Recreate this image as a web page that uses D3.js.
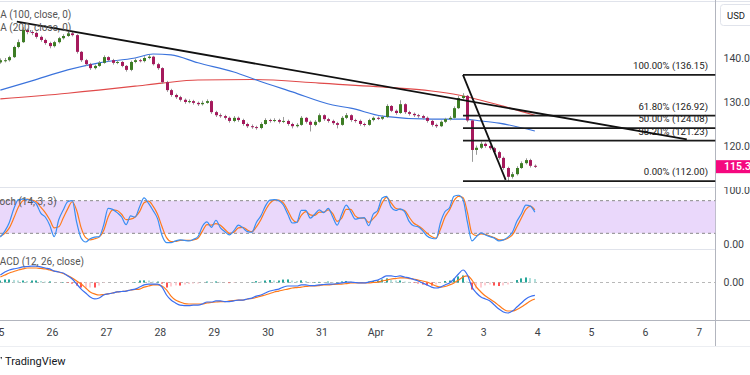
<!DOCTYPE html>
<html>
<head>
<meta charset="utf-8">
<script src="https://cdn.jsdelivr.net/npm/d3@7"></script>
<style>
  body { margin: 0; background: #fff; }
  svg { display: block; font-family: Roboto, "Open Sans", sans-serif; }
</style>
</head>
<body>
<svg id="chart" width="750" height="375"></svg>
<script>
// 2h candles starting Mar 25 00:00 (open of first bar, then open = previous close)
const firstOpen = 139.0;
const closes = [
  139.5,139.5,140.2,142.5,143.6,146.4,145.9,145.7,144.8,144.1,
  143.4,142.7,143.6,144.5,145.0,145.6,145.2,141.4,139.5,138.6,
  137.7,138.2,138.9,140.2,139.5,138.9,139.1,138.2,137.3,139.1,
  139.5,139.3,140.0,140.3,138.6,137.7,134.5,132.7,131.6,131.1,
  130.5,130.0,130.2,129.8,129.5,129.8,130.2,127.7,127.0,126.8,
  126.4,125.7,126.4,125.9,125.0,124.5,124.3,124.1,125.0,125.9,
  125.7,125.9,125.5,125.7,125.0,124.5,124.8,126.4,125.5,124.8,
  125.5,127.0,126.1,125.7,125.2,124.8,126.4,127.0,125.9,125.7,
  125.0,124.8,125.9,126.4,126.2,126.6,129.1,128.0,127.5,129.5,
  127.7,127.3,127.0,126.8,126.4,125.7,124.8,124.5,125.5,126.1,
  126.4,128.6,130.9,131.4,125.8,119.1,119.6,120.5,120.0,119.5,
  118.6,117.3,115.0,113.0,113.6,115.0,116.1,116.8,115.5,115.3];
const highs = [
  139.9,140.0,140.5,142.8,144.2,147.0,146.7,146.3,146.0,145.1,
  144.4,143.7,143.9,144.8,145.4,146.0,145.9,145.4,141.6,139.8,
  138.9,138.5,139.3,140.6,140.4,139.8,139.5,139.3,138.4,139.4,
  139.9,139.8,140.4,140.7,140.5,138.9,137.9,134.8,133.0,131.9,
  131.4,130.8,130.6,130.5,130.1,130.3,130.6,130.4,128.0,127.4,
  127.1,126.7,126.8,126.7,126.2,125.3,124.9,124.6,125.4,126.3,
  126.2,126.3,126.2,126.6,126.0,125.3,125.2,126.8,126.6,125.8,
  125.9,127.4,127.2,126.4,126.0,125.5,126.8,127.5,127.2,126.2,
  126.0,125.3,126.2,126.7,126.7,127.0,129.5,129.3,128.3,130.4,
  129.7,128.0,127.6,127.3,127.1,126.7,126.0,125.1,125.8,126.4,
  126.8,129.0,131.4,132.0,131.6,126.0,120.1,121.0,120.8,120.3,
  119.8,118.9,117.6,115.3,114.1,115.4,116.5,117.2,117.1,115.8];
const lows = [
  138.7,139.0,139.2,140.0,142.2,143.4,145.4,145.2,144.4,143.7,
  143.0,142.2,142.4,143.3,144.2,144.8,144.9,141.0,139.1,138.2,
  137.3,137.4,138.0,138.7,139.2,138.5,138.6,137.9,136.9,137.0,
  138.8,139.0,139.0,139.7,138.3,137.3,134.1,132.3,131.2,130.7,
  130.1,129.6,129.7,129.4,129.1,129.2,129.6,127.3,126.6,126.4,
  126.0,125.3,125.4,125.5,124.6,124.1,123.9,123.7,123.8,124.8,
  125.3,125.4,125.1,125.2,124.6,124.0,124.2,124.6,125.1,123.3,
  124.5,125.3,125.7,125.3,124.8,124.0,124.6,126.1,125.5,125.3,
  124.6,124.4,124.6,125.6,125.9,125.9,126.4,127.7,127.1,127.3,
  127.3,126.9,126.6,126.4,126.0,125.3,124.4,124.1,124.3,125.2,
  125.8,126.2,128.4,130.6,125.4,116.4,118.0,119.3,119.6,119.1,
  118.2,116.9,114.6,112.0,112.6,113.3,114.8,115.8,115.1,115.0];

// moving averages, sampled at some bar indices
const maFastIdx = [0, 7, 15, 22, 30, 34, 38, 44, 52, 57, 65, 74, 78, 85, 96, 103, 107, 111, 119];
const maFast = [132.7,134.8,137.3,138.9,140.0,140.9,140.7,138.9,136.8,135.0,132.3,129.3,128.6,126.8,126.1,126.1,125.7,125.2,123.4];
const maSlowIdx = [0, 15, 30, 36, 44, 56, 71, 85, 96, 102, 111, 119];
const maSlow = [130.7,132.0,133.6,134.3,135.0,135.1,134.3,133.4,132.5,131.6,129.3,127.0];

const stochK = [
  13,24,40,65,82,83,82,80,74,57, 50,35,14,45,63,78,80,40,11,4,
  10,13,14,35,66,64,58,50,36,52, 50,69,85,75,62,47,16,3,3,6,
  8,7,6,9,14,33,41,31,44,30, 23,17,25,35,30,23,22,40,52,70,
  81,82,80,72,55,39,40,62,62,48, 55,63,58,66,50,35,55,72,60,46,
  48,49,34,55,62,85,88,68,62,65, 60,42,34,32,25,15,11,10,40,60,
  67,88,90,82,40,6,14,21,17,14, 11,6,8,13,22,42,56,72,70,59];
const stochD = [
  15,20,30,48,68,80,83,81,78,68, 58,45,30,32,48,65,78,62,30,12,
  8,10,13,25,50,63,62,55,45,46, 50,60,76,79,70,55,32,12,5,5,
  7,7,7,8,11,24,36,35,38,35, 27,20,22,30,31,26,23,32,45,62,
  75,81,81,76,62,46,40,53,60,54, 53,59,59,63,56,42,48,64,64,52,
  48,48,40,47,57,76,86,76,66,64, 62,50,39,34,28,20,14,11,28,50,
  63,80,88,86,58,20,16,19,18,15, 12,8,8,11,17,32,48,64,70,63];

const macdLine = [
  0.49,0.69,0.82,0.89,0.95,1.02,1.05,1.08,1.08,1.02,
  0.95,0.89,0.75,0.69,0.62,0.43,0.23,-0.10,-0.43,-0.69,
  -0.95,-1.08,-1.02,-0.82,-0.75,-0.69,-0.62,-0.59,-0.56,-0.49,
  -0.43,-0.30,-0.16,-0.10,-0.10,-0.10,-0.30,-0.82,-1.15,-1.34,
  -1.48,-1.51,-1.51,-1.48,-1.48,-1.41,-1.28,-1.28,-1.21,-1.21,
  -1.25,-1.25,-1.21,-1.15,-1.15,-1.08,-1.02,-0.89,-0.82,-0.69,
  -0.56,-0.49,-0.43,-0.30,-0.23,-0.23,-0.23,-0.16,-0.16,-0.20,
  -0.20,-0.16,-0.13,-0.10,-0.10,-0.07,-0.03,0.03,0.03,0.00,
  -0.03,-0.03,0.03,0.10,0.16,0.30,0.43,0.43,0.39,0.43,
  0.36,0.30,0.20,0.10,-0.03,-0.16,-0.30,-0.36,-0.30,-0.16,
  -0.03,0.23,0.56,0.82,0.49,-0.30,-0.69,-0.95,-1.08,-1.21,
  -1.48,-1.74,-1.93,-2.00,-1.87,-1.61,-1.34,-1.08,-0.92,-0.85];
const signalLine = [
  0.36,0.49,0.62,0.72,0.82,0.89,0.95,0.95,0.95,0.92,
  0.89,0.82,0.75,0.69,0.59,0.46,0.30,0.10,-0.10,-0.36,
  -0.62,-0.75,-0.82,-0.79,-0.75,-0.69,-0.62,-0.59,-0.56,-0.49,
  -0.46,-0.43,-0.30,-0.23,-0.16,-0.16,-0.23,-0.49,-0.89,-1.15,
  -1.28,-1.38,-1.41,-1.41,-1.41,-1.41,-1.34,-1.31,-1.28,-1.25,
  -1.25,-1.21,-1.18,-1.15,-1.15,-1.08,-1.05,-0.98,-0.89,-0.82,
  -0.72,-0.62,-0.56,-0.49,-0.43,-0.36,-0.33,-0.30,-0.26,-0.23,
  -0.23,-0.20,-0.16,-0.16,-0.13,-0.10,-0.10,-0.07,-0.03,-0.03,
  -0.03,-0.03,-0.03,0.00,0.03,0.10,0.16,0.23,0.26,0.30,
  0.30,0.26,0.23,0.16,0.10,0.03,-0.10,-0.23,-0.30,-0.26,
  -0.16,-0.03,0.16,0.36,0.43,0.16,-0.30,-0.62,-0.89,-1.08,
  -1.28,-1.51,-1.74,-1.87,-1.87,-1.77,-1.61,-1.41,-1.21,-1.08];

const fibLevels = [1, 0.618, 0.5, 0.382, 0];
const fibHigh = 136.15;
const fibLow = 112.00;
const priceTicks = [140, 130, 120];
const stochTicks = [100, 0];
const macdTicks = [0];

const start = new Date(Date.UTC(2025, 2, 25));
const utc = (m, d, h, min) => new Date(Date.UTC(2025, m, d, h, min || 0));
const fibStart = utc(3, 2, 15);
const trendLines = [
  { t0: utc(2, 25, 8, 20), p0: 148.25, t1: utc(3, 6, 18, 40), p1: 121.5 },
  { t0: fibStart, p0: fibHigh, t1: utc(3, 3, 10), p1: 112.3 }
];

//#region layout
const W = 750, H = 375;
const axisX = 715.5;
const pricePane = [0, 187], stochPane = [187, 249], macdPane = [249, 320];
const timeAxisY = 320;
const upColor = '#3d7d24', downColor = '#a5195c', wickColor = '#9a9a9a';
const gridColor = '#e0e3eb', axisColor = '#b2b5be', textColor = '#3c3f47';

let svg = d3.select('#chart');

let x = d3.scaleUtc()
  .domain([start, utc(3, 7, 0)])
  .range([-1.9, 698.8]);
let yPrice = d3.scaleLinear().domain([120, 140]).range([146, 58]);
let yStoch = d3.scaleLinear().domain([0, 100]).range([244.2, 189.8]);
let yMacd = d3.scaleLinear().domain([-2, 1]).range([313, 267.25]);

let barTimes = closes.map((c, i) => d3.utcHour.offset(start, 2 * i + 1));
let candles = closes.map((c, i) => ({
  t: barTimes[i],
  o: i === 0 ? firstOpen : closes[i - 1],
  h: highs[i], l: lows[i], c: c
}));

let defs = svg.append('defs');
[['clipPrice', pricePane], ['clipStoch', stochPane], ['clipMacd', macdPane]].forEach(([id, p]) => {
  defs.append('clipPath').attr('id', id)
    .append('rect').attr('x', 0).attr('y', p[0]).attr('width', axisX).attr('height', p[1] - p[0]);
});
defs.append('clipPath').attr('id', 'clipStochAxis')
  .append('rect').attr('x', axisX).attr('y', stochPane[0]).attr('width', W - axisX).attr('height', stochPane[1] - stochPane[0]);
//#endregion

// separators and frames
svg.append('line').attr('x1', 0).attr('x2', W).attr('y1', 1.5).attr('y2', 1.5).attr('stroke', gridColor);
[stochPane[0], macdPane[0]].forEach(y => {
  svg.append('line').attr('x1', 0).attr('x2', axisX).attr('y1', y + 0.5).attr('y2', y + 0.5)
    .attr('stroke', gridColor);
});
svg.append('line').attr('x1', 0).attr('x2', W).attr('y1', timeAxisY + 0.5).attr('y2', timeAxisY + 0.5)
  .attr('stroke', axisColor);
svg.append('line').attr('x1', 0).attr('x2', W).attr('y1', 346.5).attr('y2', 346.5).attr('stroke', '#eceef2');
svg.append('line').attr('x1', axisX).attr('x2', axisX).attr('y1', 0).attr('y2', 346).attr('stroke', axisColor);

//#region price pane
let pg = svg.append('g').attr('clip-path', 'url(#clipPrice)');

let maLine = (idx) => d3.line()
  .x((d, k) => x(barTimes[idx[k]]))
  .y(d => yPrice(d))
  .curve(d3.curveMonotoneX);

pg.append('path').datum(maSlow).attr('d', maLine(maSlowIdx))
  .attr('fill', 'none').attr('stroke', '#e04a4a').attr('stroke-width', 1.1);
pg.append('path').datum(maFast).attr('d', maLine(maFastIdx))
  .attr('fill', 'none').attr('stroke', '#3b73dc').attr('stroke-width', 1.1);

let cg = pg.append('g');
cg.selectAll('line.wick')
  .data(candles)
  .enter().append('line')
  .attr('class', 'wick')
  .attr('x1', d => Math.round(x(d.t)) + 0.5)
  .attr('x2', d => Math.round(x(d.t)) + 0.5)
  .attr('y1', d => yPrice(d.h))
  .attr('y2', d => yPrice(d.l))
  .attr('stroke', wickColor);
cg.selectAll('rect.body')
  .data(candles)
  .enter().append('rect')
  .attr('class', 'body')
  .attr('x', d => Math.round(x(d.t)) - 1)
  .attr('width', 3)
  .attr('y', d => yPrice(Math.max(d.o, d.c)))
  .attr('height', d => Math.max(1, Math.abs(yPrice(d.o) - yPrice(d.c))))
  .attr('fill', d => d.c >= d.o ? upColor : downColor);

// fib retracement
let fibs = fibLevels.map(l => ({ level: l, price: fibLow + (fibHigh - fibLow) * l }));
pg.selectAll('line.fib')
  .data(fibs)
  .enter().append('line')
  .attr('x1', x(fibStart)).attr('x2', axisX)
  .attr('y1', d => yPrice(d.price)).attr('y2', d => yPrice(d.price))
  .attr('stroke', '#1a1a1a').attr('stroke-width', 1.8);
pg.selectAll('text.fib')
  .data(fibs)
  .enter().append('text')
  .attr('x', 708)
  .attr('y', d => yPrice(d.price) - 6)
  .attr('text-anchor', 'end')
  .attr('font-size', 9.6)
  .attr('fill', '#222')
  .text(d => (d.level * 100).toFixed(2) + '% (' + d.price.toFixed(2) + ')');

pg.selectAll('line.trend')
  .data(trendLines)
  .enter().append('line')
  .attr('x1', d => x(d.t0)).attr('y1', d => yPrice(d.p0))
  .attr('x2', d => x(d.t1)).attr('y2', d => yPrice(d.p1))
  .attr('stroke', '#111').attr('stroke-width', 1.8);

pg.append('text').attr('x', -8.6).attr('y', 17.5).attr('font-size', 10).attr('fill', '#555')
  .text('MA (100, close, 0)');
pg.append('text').attr('x', -8.6).attr('y', 31).attr('font-size', 10).attr('fill', '#555')
  .text('MA (200, close, 0)');
//#endregion

//#region stochastic pane
let sg = svg.append('g').attr('clip-path', 'url(#clipStoch)');
sg.append('rect')
  .attr('x', 0).attr('width', axisX)
  .attr('y', yStoch(80)).attr('height', yStoch(20) - yStoch(80))
  .attr('fill', '#ead8fb');
[80, 20].forEach(v => {
  sg.append('line').attr('x1', 0).attr('x2', axisX)
    .attr('y1', yStoch(v)).attr('y2', yStoch(v))
    .attr('stroke', '#8a8a8a').attr('stroke-dasharray', '3,3');
});
let stochPath = d3.line()
  .x((d, i) => x(barTimes[i]))
  .y(d => yStoch(d))
  .curve(d3.curveMonotoneX);
sg.append('path').datum(stochD).attr('d', stochPath)
  .attr('fill', 'none').attr('stroke', '#ff7a1a').attr('stroke-width', 1.2);
sg.append('path').datum(stochK).attr('d', stochPath)
  .attr('fill', 'none').attr('stroke', '#3a8ef2').attr('stroke-width', 1.2);
sg.append('text').attr('x', -9.6).attr('y', 205).attr('font-size', 10).attr('fill', '#555')
  .text('Stoch (14, 3, 3)');
//#endregion

//#region macd pane
let mg = svg.append('g').attr('clip-path', 'url(#clipMacd)');
mg.append('line').attr('x1', 0).attr('x2', axisX)
  .attr('y1', yMacd(0)).attr('y2', yMacd(0))
  .attr('stroke', '#b8b8b8').attr('stroke-dasharray', '3,3');
let hist = macdLine.map((m, i) => m - signalLine[i]);
mg.selectAll('rect.hist')
  .data(hist)
  .enter().append('rect')
  .attr('x', (d, i) => Math.round(x(barTimes[i])) - 1)
  .attr('width', 2)
  .attr('y', d => Math.min(yMacd(d), yMacd(0)))
  .attr('height', d => Math.abs(yMacd(d) - yMacd(0)))
  .attr('fill', (d, i) => {
    let prev = i > 0 ? hist[i - 1] : d;
    if (d >= 0) return d >= prev ? '#26a69a' : '#b2dfdb';
    return d < prev ? '#ff5252' : '#ffcdd2';
  });
let macdPath = d3.line()
  .x((d, i) => x(barTimes[i]))
  .y(d => yMacd(d))
  .curve(d3.curveMonotoneX);
mg.append('path').datum(signalLine).attr('d', macdPath)
  .attr('fill', 'none').attr('stroke', '#ff7a1a').attr('stroke-width', 1.2);
mg.append('path').datum(macdLine).attr('d', macdPath)
  .attr('fill', 'none').attr('stroke', '#3b6ff0').attr('stroke-width', 1.2);
mg.append('text').attr('x', -9).attr('y', 264.5).attr('font-size', 10).attr('fill', '#555')
  .text('MACD (12, 26, close)');
//#endregion

//#region axes
let yAxisPrice = d3.axisRight(yPrice).tickValues(priceTicks).tickSize(0).tickPadding(8)
  .tickFormat(d3.format('.1f'));
svg.append('g').attr('transform', `translate(${axisX},0)`).call(yAxisPrice)
  .call(g => g.select('.domain').remove());
let yAxisStoch = d3.axisRight(yStoch).tickValues(stochTicks).tickSize(0).tickPadding(8)
  .tickFormat(d3.format('.2f'));
svg.append('g').attr('clip-path', 'url(#clipStochAxis)')
  .append('g').attr('transform', `translate(${axisX},0)`).call(yAxisStoch)
  .call(g => g.select('.domain').remove());
let yAxisMacd = d3.axisRight(yMacd).tickValues(macdTicks).tickSize(0).tickPadding(8)
  .tickFormat(d3.format('.2f'));
svg.append('g').attr('transform', `translate(${axisX},0)`).call(yAxisMacd)
  .call(g => g.select('.domain').remove());

let days = d3.utcDay.range(start, utc(3, 8, 0));
let xAxis = d3.axisBottom(x).tickValues(days).tickSize(0).tickPadding(9)
  .tickFormat(d => d.getUTCDate() === 1 ? 'Apr' : String(d.getUTCDate()));
svg.append('g').attr('transform', `translate(0,${timeAxisY})`).call(xAxis)
  .call(g => g.select('.domain').remove());

svg.selectAll('.tick text').attr('font-size', 10.5).attr('fill', textColor)
  .attr('font-family', 'Roboto, "Open Sans", sans-serif');
//#endregion

// last price tag
let last = closes[closes.length - 1];
svg.append('rect').attr('x', axisX + 0.5).attr('y', yPrice(last) - 6.5).attr('width', W - axisX).attr('height', 13)
  .attr('fill', '#f5087f');
svg.append('text').attr('x', 724).attr('y', yPrice(last) + 3.8)
  .attr('font-size', 10.5).attr('font-weight', 600).attr('fill', '#fff')
  .text(last.toFixed(1));

// currency box
svg.append('rect').attr('x', 720.5).attr('y', 4.5).attr('width', 34).attr('height', 21).attr('rx', 3)
  .attr('fill', '#fff').attr('stroke', '#e0e3eb');
svg.append('text').attr('x', 727).attr('y', 18.5).attr('font-size', 9.5).attr('fill', '#222').text('USD');

// watermark
svg.append('text').attr('x', 5).attr('y', 365).attr('font-size', 11).attr('fill', '#131722').text('TradingView');
svg.append('path').attr('d', 'M0.5,357 l1.5,0 l-0.8,2.5 z').attr('fill', '#131722');
</script>
</body>
</html>
